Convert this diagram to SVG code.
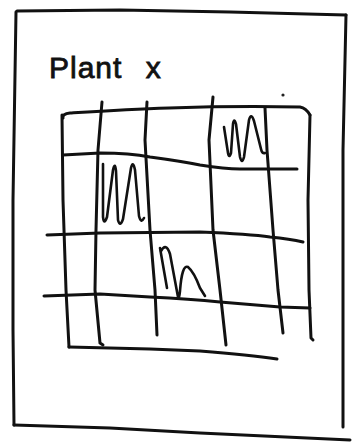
<svg xmlns="http://www.w3.org/2000/svg" width="352" height="444" viewBox="0 0 352 444">
<style>
.ink{fill:none;stroke:#111;stroke-width:3;stroke-linecap:round;stroke-linejoin:round}
.scr{fill:none;stroke:#111;stroke-width:2.6;stroke-linecap:round;stroke-linejoin:round}
.lbl{font-family:"Liberation Sans",Arial,sans-serif;font-size:30px;fill:#111;stroke:#111;stroke-width:0.8;letter-spacing:1px;word-spacing:14px}
</style>
<rect width="352" height="444" fill="#fff"/>
<g id="frame">
<path class="ink" d="M17,11 L120,10 L230,12 L346,15"/>
<path class="ink" d="M16,12 L13,200 L13,330 L14,425"/>
<path class="ink" d="M14,425 L110,428 L200,433 L350,440"/>
<path class="ink" d="M346,15 L343,150 L343,330 L343,427"/>
</g>
<g id="title">
<text class="lbl" x="49" y="78">Plant x</text>
</g>
<g id="grid">
<path class="ink" d="M63,118 Q62,114 70,113 C120,110 200,105 300,107 Q306,108 310,115"/>
<path class="ink" d="M62,115 L63,200 L66,290 L69,347"/>
<path class="ink" d="M69,347 L150,349 L200,351 Q250,355 277,359"/>
<path class="ink" d="M310,115 L308,200 L309,290 L311,338 L313,340"/>
<path class="ink" d="M63,155 L100,153 Q130,153 150,157 Q180,161 200,165 Q225,169 240,169 L297,169"/>
<path class="ink" d="M47,235 L100,233 L200,232 Q250,234 270,237 Q290,239 303,242"/>
<path class="ink" d="M44,296 L100,294 L150,297 Q190,299 220,302 L280,307 L310,308"/>
<path class="ink" d="M102,102 L98,150 L96,230 L95,290 L100,343 L103,345"/>
<path class="ink" d="M147,102 L145,140 L150,230 L155,290 L157,335"/>
<path class="ink" d="M213,97 L209,140 L213,230 L220,290 L226,345"/>
<path class="ink" d="M265,108 L267,150 L273,230 L278,290 L283,333"/>
<circle cx="283" cy="95" r="1.6" fill="#222"/>
</g>
<g id="scribbles">
<path class="scr" d="M224,127 L228,153 Q229,159 231,153 L233,124 Q234,117 236,124 L240,157 Q242,165 244,157 L249,120 Q251,112 254,121 L261,149 Q262,154 265,153"/>
<path class="scr" d="M103,164 L103,217 Q104,226 107,217 L113,170 Q115,161 116,171 L118,220 Q120,228 123,219 L131,168 Q133,160 135,170 L139,216 Q141,224 144,218"/>
<path class="scr" d="M160,248 L167,288"/>
<path class="scr" d="M161,251 Q166,242 170,254 L178,297 Q179,300 180,291 Q182,264 188,267 Q194,272 200,288 L205,296"/>
</g>
</svg>
